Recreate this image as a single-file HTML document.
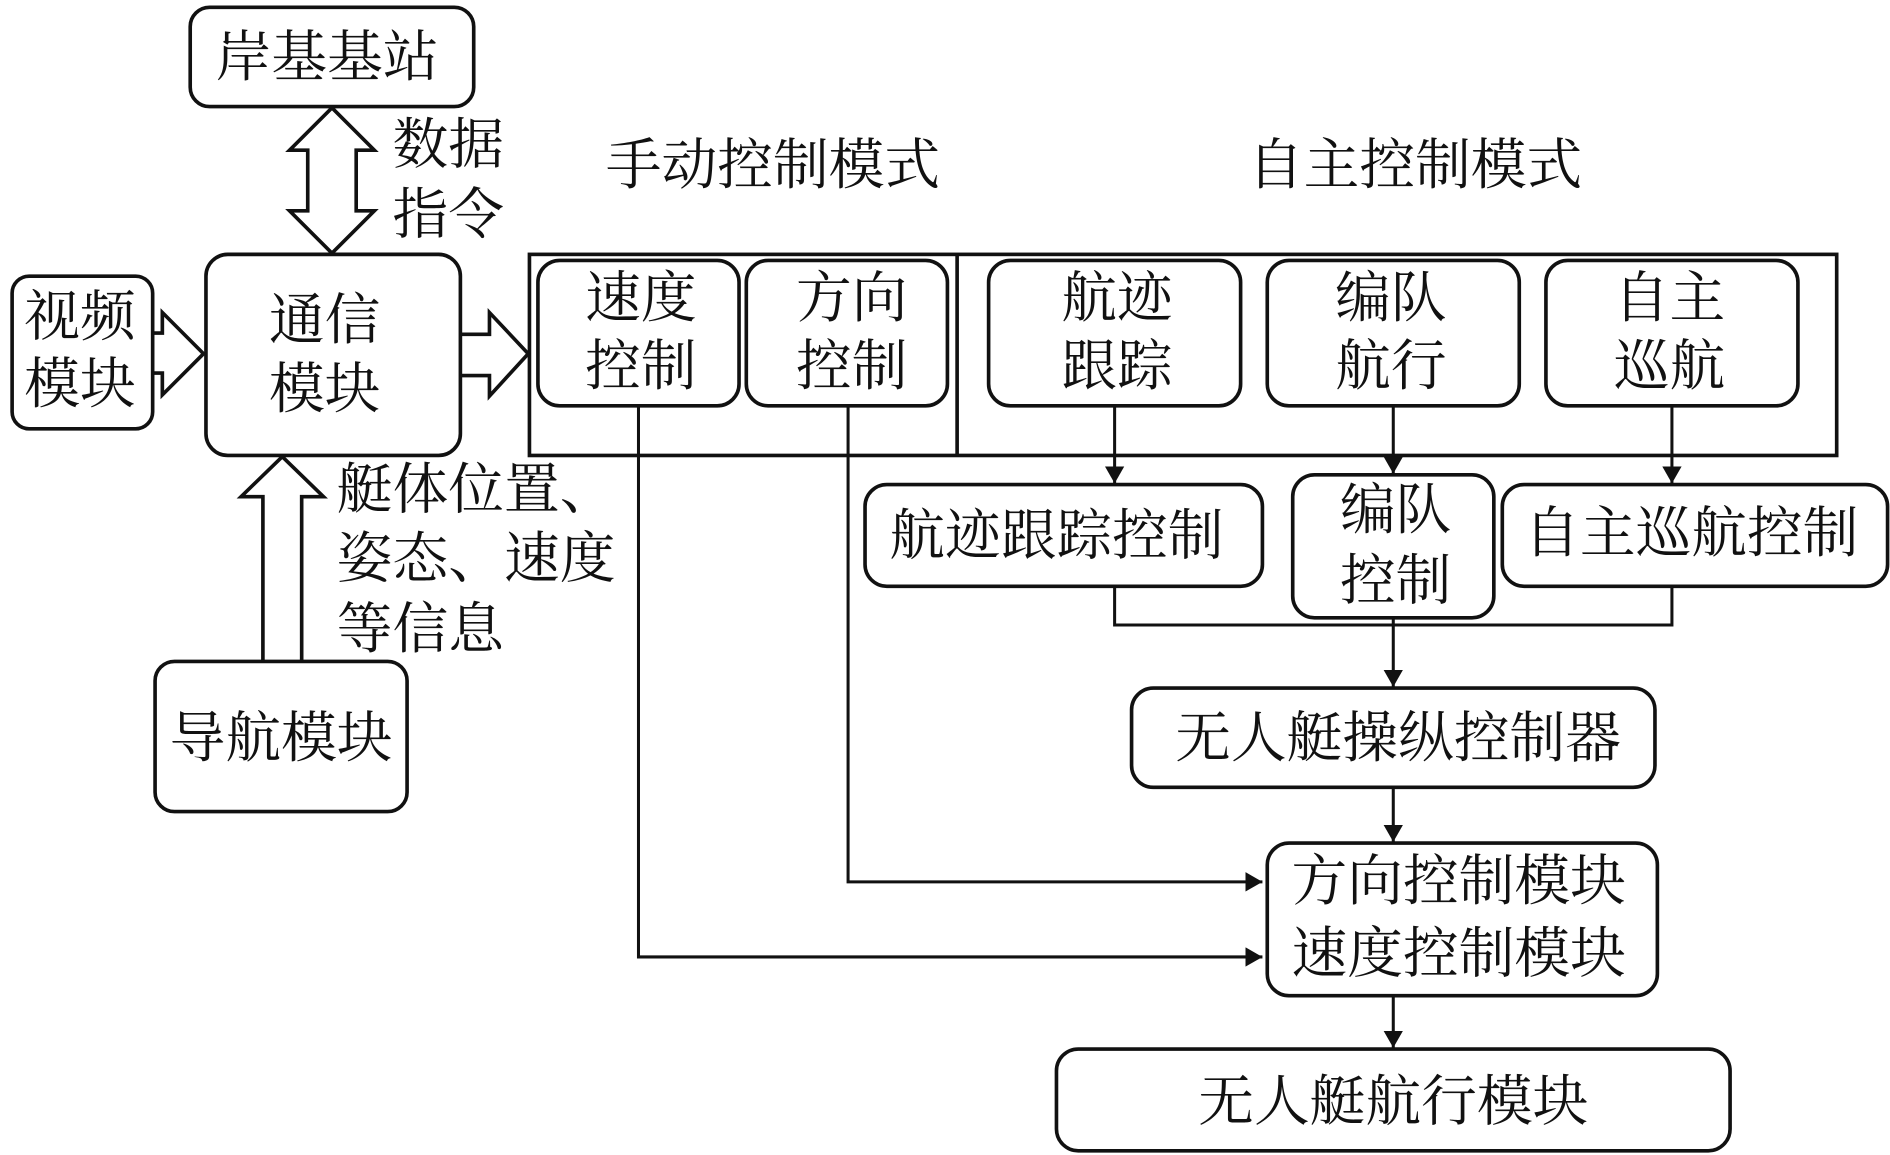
<!DOCTYPE html>
<html><head><meta charset="utf-8"><style>
html,body{margin:0;padding:0;background:#fff;}
svg{display:block;}
text{font-family:"Liberation Serif","Noto Serif CJK SC",serif;font-size:46px;fill:#111;dominant-baseline:central;}
.c{text-anchor:middle;}
</style></head><body>
<svg width="1890" height="1155" viewBox="0 0 1560 953.5" preserveAspectRatio="none" xmlns="http://www.w3.org/2000/svg">
<defs><marker id="a" markerWidth="10" markerHeight="10" refX="9" refY="5" orient="auto" markerUnits="userSpaceOnUse"><path d="M0,0 L10,5 L0,10 Z" fill="#111"/></marker>
<marker id="b" viewBox="0 0 10 10" markerWidth="14" markerHeight="16" refX="10" refY="5" orient="auto" markerUnits="userSpaceOnUse" preserveAspectRatio="none"><path d="M0,0 L10,5 L0,10 Z" fill="#111"/></marker></defs>
<g fill="none" stroke="#111" stroke-width="3">
<rect x="157" y="6" width="234" height="82" rx="16"/>
<rect x="10" y="228" width="116" height="126" rx="14"/>
<rect x="170" y="210" width="210" height="166" rx="18"/>
<rect x="128" y="546" width="208" height="124" rx="16"/>
<rect x="437" y="210" width="1079" height="166"/>
<line x1="790" y1="210" x2="790" y2="376"/>
<rect x="444" y="215" width="166" height="120" rx="18"/>
<rect x="616" y="215" width="166" height="120" rx="18"/>
<rect x="816" y="215" width="208" height="120" rx="18"/>
<rect x="1046" y="215" width="208" height="120" rx="18"/>
<rect x="1276" y="215" width="208" height="120" rx="18"/>
<rect x="714" y="400" width="328" height="84" rx="18"/>
<rect x="1067" y="392" width="166" height="118" rx="18"/>
<rect x="1240" y="400" width="318" height="84" rx="18"/>
<rect x="934" y="568" width="432" height="82" rx="18"/>
<rect x="1046" y="696" width="322" height="126" rx="18"/>
<rect x="872" y="866" width="556" height="84" rx="18"/>
<!-- hollow arrows -->
<path d="M274,89 L309,124 L294,124 L294,174 L309,174 L274,209 L239,174 L254,174 L254,124 L239,124 Z"/>
<path d="M126,275 L134,275 L134,258 L168,292 L134,326 L134,308 L126,308"/>
<path d="M380,276 L404,276 L404,258 L436,292 L404,327 L404,310 L380,310"/>
<path d="M217,546 L217,410 L199,410 L233,377 L267,410 L249,410 L249,546"/>
<!-- connectors -->
<g stroke-width="2.5">
<polyline points="527,335 527,790 1042,790" marker-end="url(#b)"/>
<polyline points="700,335 700,728 1042,728" marker-end="url(#b)"/>
<line x1="920" y1="335" x2="920" y2="399" marker-end="url(#b)"/>
<line x1="1150" y1="335" x2="1150" y2="391" marker-end="url(#b)"/>
<line x1="1380" y1="335" x2="1380" y2="399" marker-end="url(#b)"/>
<polyline points="920,484 920,516 1380,516 1380,484"/>
<line x1="1150" y1="510" x2="1150" y2="567" marker-end="url(#b)"/>
<line x1="1150" y1="650" x2="1150" y2="695" marker-end="url(#b)"/>
<line x1="1150" y1="822" x2="1150" y2="865" marker-end="url(#b)"/>
</g>
</g>
<text class="c" x="270" y="48">岸基基站</text>
<text x="324" y="120">数据</text>
<text x="324" y="178">指令</text>
<text class="c" x="638" y="137">手动控制模式</text>
<text class="c" x="1168" y="137">自主控制模式</text>
<text class="c" x="66" y="262">视频</text>
<text class="c" x="66" y="318">模块</text>
<text class="c" x="268" y="265">通信</text>
<text class="c" x="268" y="322">模块</text>
<text class="c" x="529" y="247">速度</text>
<text class="c" x="529" y="303">控制</text>
<text class="c" x="703" y="247">方向</text>
<text class="c" x="703" y="303">控制</text>
<text class="c" x="922" y="247">航迹</text>
<text class="c" x="922" y="303">跟踪</text>
<text class="c" x="1148" y="247">编队</text>
<text class="c" x="1148" y="303">航行</text>
<text class="c" x="1378" y="247">自主</text>
<text class="c" x="1378" y="303">巡航</text>
<text class="c" x="872" y="443">航迹跟踪控制</text>
<text class="c" x="1152" y="422">编队</text>
<text class="c" x="1152" y="480">控制</text>
<text class="c" x="1396" y="441">自主巡航控制</text>
<text class="c" x="1154" y="610">无人艇操纵控制器</text>
<text class="c" x="1204" y="728">方向控制模块</text>
<text class="c" x="1204" y="788">速度控制模块</text>
<text class="c" x="1150" y="910">无人艇航行模块</text>
<text class="c" x="232" y="610">导航模块</text>
<text x="278" y="405">艇体位置、</text>
<text x="278" y="462">姿态、速度</text>
<text x="278" y="520">等信息</text>
</svg>
</body></html>
